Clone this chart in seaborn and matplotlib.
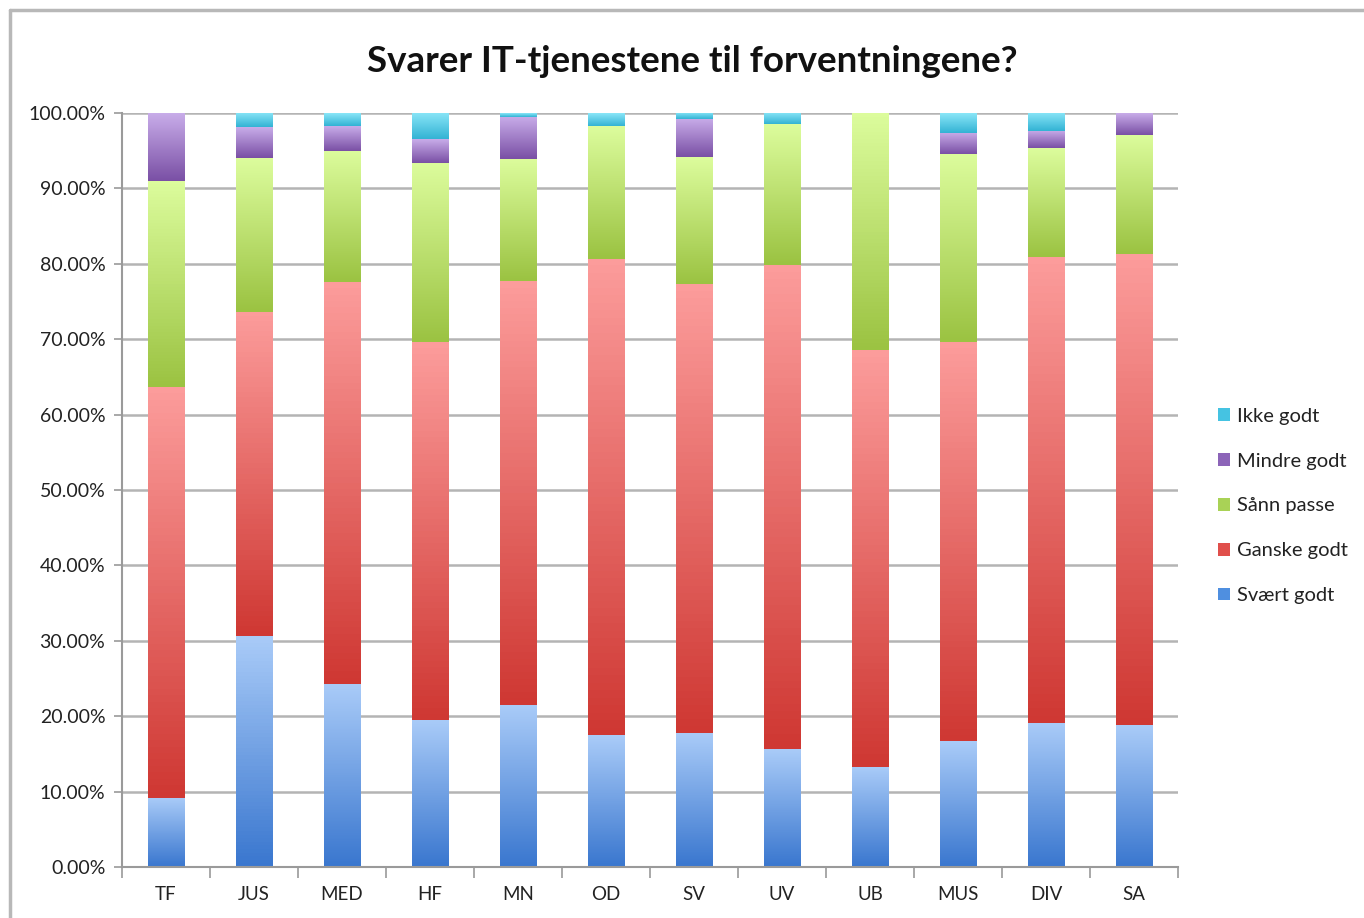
import matplotlib
matplotlib.use("Agg")
import matplotlib.pyplot as plt
import numpy as np
import pandas as pd
import seaborn as sns
from matplotlib.colors import LinearSegmentedColormap
from matplotlib.lines import Line2D
from matplotlib.patches import Patch
from matplotlib.ticker import FuncFormatter, FixedLocator

faculties = ["TF", "JUS", "MED", "HF", "MN", "OD", "SV", "UV", "UB", "MUS", "DIV", "SA"]

# percent of answers per faculty
svaert_godt = [9.2, 30.6, 24.3, 19.5, 21.5, 17.5, 17.8, 15.6, 13.3, 16.7, 19.1, 18.8]
ganske_godt = [54.5, 43.0, 53.3, 50.1, 56.2, 63.2, 59.5, 64.2, 55.3, 52.9, 61.8, 62.5]
sann_passe = [27.3, 20.4, 17.4, 23.8, 16.2, 17.6, 16.8, 18.7, 31.4, 25.0, 14.4, 15.8]
mindre_godt = [9.0, 4.1, 3.3, 3.1, 5.6, 0.0, 5.1, 0.0, 0.0, 2.8, 2.3, 2.9]
ikke_godt = [0.0, 1.9, 1.7, 3.5, 0.5, 1.7, 0.8, 1.5, 0.0, 2.6, 2.4, 0.0]

answers = ["Ikke godt", "Mindre godt", "Sånn passe", "Ganske godt", "Svært godt"]

# (top / light, bottom / dark, legend) colours
colors = {
    "Ikke godt": ("#8ae6f8", "#33b3d4", "#45c3e2"),
    "Mindre godt": ("#c8ace9", "#7a50a5", "#8c64b8"),
    "Sånn passe": ("#dcfc9c", "#9bc342", "#a9d256"),
    "Ganske godt": ("#fc9c9b", "#cf3833", "#e04f4b"),
    "Svært godt": ("#a9cbf8", "#3a77cf", "#4f8fe0"),
}

wide = pd.DataFrame({
    "fakultet": faculties,
    "Svært godt": svaert_godt,
    "Ganske godt": ganske_godt,
    "Sånn passe": sann_passe,
    "Mindre godt": mindre_godt,
    "Ikke godt": ikke_godt,
})
df = wide.melt(id_vars="fakultet", var_name="svar", value_name="andel")

sns.set_theme(style="white")
plt.rcParams["font.family"] = ["Lato", "DejaVu Sans"]

fig = plt.figure(figsize=(13.64, 9.18), dpi=100)
ax = fig.add_axes([122 / 1364, 51 / 918, (1178 - 122) / 1364, (867 - 113) / 918])

sns.histplot(
    data=df, x="fakultet", weights="andel", hue="svar", hue_order=answers,
    multiple="stack", discrete=True, shrink=0.42, linewidth=0, alpha=1,
    palette={k: v[2] for k, v in colors.items()}, legend=False, ax=ax,
)

# gradient fill on every segment, light at top, dark at bottom
for patch in list(ax.patches):
    h = patch.get_height()
    if h <= 0:
        continue
    fc = patch.get_facecolor()
    name = min(colors, key=lambda k: np.sum((np.array(matplotlib.colors.to_rgb(colors[k][2])) - np.array(fc[:3])) ** 2))
    cmap = LinearSegmentedColormap.from_list(name, [colors[name][1], colors[name][0]])
    x0, y0, w = patch.get_x(), patch.get_y(), patch.get_width()
    im = ax.imshow(np.linspace(0, 1, 64).reshape(-1, 1), cmap=cmap, origin="lower",
                   extent=[x0, x0 + w, y0, y0 + h], aspect="auto", zorder=2)
    im.set_clip_path(patch)

ax.set_xlim(-0.5, len(faculties) - 0.5)
ax.set_ylim(0, 100)
ax.set_yticks(np.arange(0, 101, 10))
ax.yaxis.set_major_formatter(FuncFormatter(lambda v, _: f"{v:.2f}%"))
ax.set_xticks(range(len(faculties)))
ax.set_xticklabels(faculties)
ax.xaxis.set_minor_locator(FixedLocator(np.arange(-0.5, len(faculties), 1)))
ax.tick_params(axis="x", which="major", length=0, pad=14, labelsize=13.5, labelcolor="#222222")
ax.tick_params(axis="x", which="minor", length=8, width=1.2, color="#9a9a9a", direction="out", bottom=True)
ax.tick_params(axis="y", length=6, width=1.2, color="#9a9a9a", direction="out", left=True,
               labelsize=14, labelcolor="#222222", pad=6)

ax.grid(axis="y", color="#b4b4b4", linewidth=1.8, zorder=0)
ax.set_axisbelow(True)
for side in ["top", "right"]:
    ax.spines[side].set_visible(False)
for side in ["left", "bottom"]:
    ax.spines[side].set_color("#9a9a9a")
    ax.spines[side].set_linewidth(1.5)
ax.set_xlabel("")
ax.set_ylabel("")

fig.text(692 / 1364, 1 - 62 / 918, "Svarer IT-tjenestene til forventningene?", ha="center", va="center",
         fontsize=26.5, fontweight="bold", color="#111111")

handles = [Patch(facecolor=colors[a][2], edgecolor="none") for a in answers]
fig.legend(handles, answers, loc="center left", bbox_to_anchor=(1200 / 1364, 1 - 506 / 918),
           frameon=False, fontsize=14.5, handlelength=0.6, handleheight=0.6, handletextpad=0.35,
           labelspacing=1.38, labelcolor="#222222")

# chart frame
fig.add_artist(Line2D([10 / 1364, 1], [1 - 10 / 918] * 2, color="#b8b8b8", linewidth=2.5))
fig.add_artist(Line2D([10 / 1364] * 2, [0, 1 - 10 / 918], color="#b8b8b8", linewidth=2.5))

fig.savefig("out.png", dpi=100)
plt.close(fig)
